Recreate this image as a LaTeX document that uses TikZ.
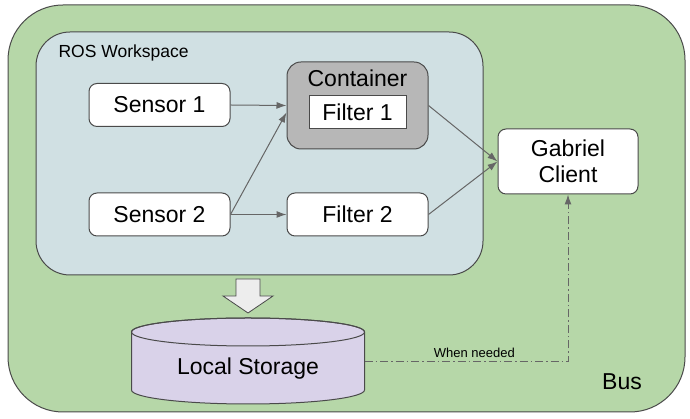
\documentclass[tikz,border=0pt]{standalone}
\usepackage{fontspec}
\setmainfont{Liberation Sans}
\usetikzlibrary{arrows.meta}
\definecolor{busgreen}{HTML}{B6D7A8}
\definecolor{wsblue}{HTML}{D0E0E3}
\definecolor{contgray}{HTML}{B7B7B7}
\definecolor{storelilac}{HTML}{D9D2E9}
\definecolor{edgegray}{HTML}{666666}
\definecolor{linegray}{HTML}{4A4A4A}
\begin{document}
\begin{tikzpicture}[x=1pt,y=1pt,>={Latex[length=10pt,width=7pt]},
    big/.style={font=\fontsize{23}{26}\selectfont},
    box/.style={draw=linegray,line width=1pt,fill=white,rounded corners=8pt,inner sep=0pt,
        minimum width=141pt,minimum height=43pt,big},
    flow/.style={->,draw=edgegray,line width=1pt}]

\useasboundingbox (0,0) rectangle (690,419);

\node[draw=linegray,line width=1pt,fill=busgreen,rounded corners=55pt,
    minimum width=677pt,minimum height=407pt] (bus) at (346.5,210.5) {};
\node[draw=linegray,line width=1pt,fill=wsblue,rounded corners=34pt,
    minimum width=447pt,minimum height=243pt] (ros) at (259.5,265.5) {};
\node[anchor=west,font=\fontsize{17.5}{20}\selectfont] (roslbl) at (55,366) {ROS Workspace};

\node[box] (sensor1) at (159.5,314) {Sensor 1};
\node[box] (sensor2) at (159.5,204.5) {Sensor 2};
\node[box,fill=contgray,rounded corners=14pt,minimum height=87pt] (container) at (357.5,313.5) {};
\node[big] (contlbl) at (357.5,341) {Container};
\node[box,rounded corners=0pt,minimum width=97pt,minimum height=33pt] (filter1) at (357.5,306.5) {Filter 1};
\node[box] (filter2) at (357.5,204.5) {Filter 2};
\node[box,minimum width=140pt,minimum height=65pt,align=center] (gabriel) at (568,257.5) {Gabriel\\Client};

\draw[flow] (sensor1.east)--(container.west);
\draw[flow] (sensor2.east)--([yshift=-7pt]container.west);
\draw[flow] (sensor2.east)--(filter2.west);
\draw[flow] (container.east)--(gabriel.west);
\draw[flow] (filter2.east)--(gabriel.west);

\draw[draw=linegray,line width=0.8pt,fill=black!7] (236,140)--(260,140)--(260,123)--(273,123)--(248,106)--(223,123)--(236,123)--cycle;

\draw[draw=linegray,line width=1pt,fill=storelilac] (131.5,87)--(131.5,29)
    arc[start angle=180,end angle=360,x radius=116.5pt,y radius=14pt]--(364.5,87)
    arc[start angle=0,end angle=180,x radius=116.5pt,y radius=14pt]--cycle;
\draw[draw=linegray,line width=1pt] (248,87) ellipse [x radius=116.5pt,y radius=14pt];
\node[big] (storage) at (248,50) {Local Storage};
\coordinate (storeout) at (364.5,57);

\draw[flow,dash pattern=on 8pt off 3pt on 1.5pt off 3pt] (storeout)-|(gabriel.south)
    node[pos=0.27,above=1pt,font=\fontsize{13}{15}\selectfont] (needed) {When needed};

\node[big] (buslbl) at (622,37) {Bus};
\end{tikzpicture}
\end{document}
